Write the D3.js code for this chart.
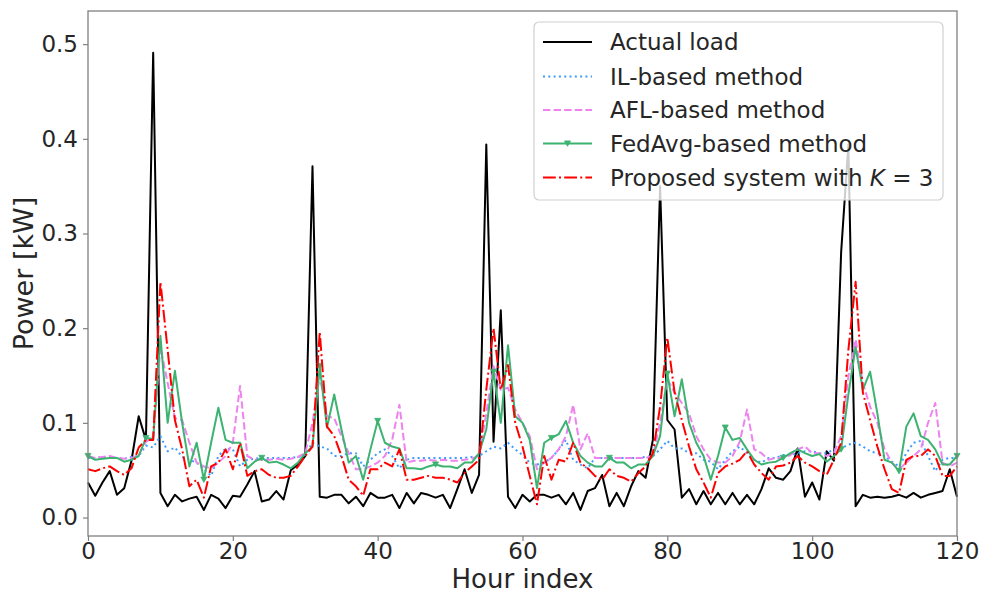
<!DOCTYPE html>
<html><head><meta charset="utf-8">
<script src="https://cdn.jsdelivr.net/npm/d3@7/dist/d3.min.js"></script>
<style>
body{margin:0;background:#fff}
svg{display:block}
text{font-family:"DejaVu Sans",sans-serif;fill:#262626}
</style>
</head><body>
<svg id="chart" width="982" height="594"></svg>
<script>
// ---------------- data ----------------
const actualLoad = [0.037,0.023,0.037,0.049,0.024,0.031,0.06,0.107,0.082,0.491,
0.026,0.012,0.024,0.017,0.02,0.022,0.008,0.024,0.02,0.01,
0.023,0.022,0.035,0.049,0.017,0.019,0.028,0.019,0.05,0.056,
0.065,0.371,0.022,0.021,0.024,0.024,0.015,0.022,0.012,0.026,
0.021,0.021,0.024,0.01,0.026,0.015,0.026,0.024,0.021,0.024,
0.01,0.03,0.051,0.026,0.045,0.394,0.08,0.219,0.022,0.01,
0.024,0.017,0.024,0.024,0.021,0.024,0.014,0.026,0.008,0.028,
0.031,0.045,0.012,0.026,0.012,0.033,0.049,0.042,0.082,0.35,
0.103,0.093,0.021,0.03,0.014,0.028,0.014,0.026,0.014,0.026,
0.014,0.024,0.014,0.03,0.052,0.042,0.04,0.049,0.073,0.022,
0.037,0.019,0.07,0.06,0.28,0.394,0.012,0.024,0.021,0.022,
0.021,0.022,0.024,0.021,0.026,0.021,0.024,0.026,0.028,0.051,
0.022];

const ilMethod = [0.063,0.063,0.064,0.063,0.063,0.062,0.064,0.065,0.076,0.074,
0.086,0.07,0.074,0.064,0.061,0.058,0.051,0.044,0.065,0.073,
0.072,0.054,0.061,0.062,0.063,0.063,0.063,0.063,0.063,0.064,
0.066,0.079,0.075,0.073,0.065,0.065,0.068,0.068,0.054,0.061,
0.068,0.072,0.065,0.052,0.061,0.063,0.063,0.063,0.063,0.063,
0.063,0.063,0.063,0.064,0.065,0.07,0.075,0.073,0.079,0.072,
0.066,0.058,0.056,0.058,0.063,0.072,0.082,0.061,0.056,0.052,
0.063,0.063,0.063,0.063,0.063,0.063,0.063,0.064,0.065,0.072,
0.081,0.073,0.073,0.068,0.068,0.061,0.059,0.051,0.061,0.07,
0.075,0.068,0.061,0.058,0.063,0.063,0.066,0.066,0.068,0.07,
0.07,0.068,0.068,0.072,0.073,0.077,0.079,0.075,0.07,0.068,
0.065,0.059,0.054,0.068,0.079,0.081,0.065,0.049,0.061,0.063,
0.063];

const aflMethod = [0.065,0.063,0.064,0.065,0.063,0.062,0.063,0.066,0.08,0.085,
0.18,0.142,0.105,0.103,0.079,0.058,0.054,0.052,0.058,0.065,
0.079,0.139,0.065,0.061,0.061,0.061,0.062,0.061,0.062,0.064,
0.068,0.1,0.15,0.107,0.105,0.086,0.068,0.051,0.051,0.054,
0.058,0.065,0.082,0.119,0.058,0.06,0.06,0.061,0.06,0.061,
0.06,0.06,0.061,0.062,0.066,0.11,0.16,0.135,0.137,0.114,
0.1,0.086,0.051,0.058,0.063,0.072,0.086,0.119,0.072,0.089,
0.063,0.063,0.063,0.063,0.063,0.063,0.063,0.063,0.065,0.1,
0.146,0.132,0.121,0.11,0.086,0.072,0.061,0.058,0.058,0.065,
0.08,0.114,0.072,0.068,0.061,0.063,0.063,0.066,0.072,0.075,
0.068,0.068,0.065,0.068,0.086,0.149,0.188,0.142,0.117,0.1,
0.072,0.058,0.051,0.058,0.065,0.072,0.1,0.121,0.058,0.054,
0.058];

const fedAvgMethod = [0.065,0.061,0.062,0.063,0.063,0.059,0.061,0.065,0.084,0.083,
0.192,0.1,0.155,0.1,0.054,0.079,0.04,0.079,0.116,0.082,
0.079,0.079,0.052,0.059,0.063,0.058,0.059,0.056,0.052,0.058,
0.068,0.075,0.16,0.095,0.13,0.093,0.058,0.065,0.04,0.072,
0.102,0.079,0.075,0.073,0.052,0.052,0.051,0.054,0.056,0.054,
0.054,0.052,0.058,0.058,0.068,0.093,0.154,0.1,0.182,0.107,
0.1,0.082,0.031,0.079,0.084,0.088,0.102,0.079,0.065,0.058,
0.054,0.054,0.063,0.058,0.058,0.052,0.056,0.056,0.065,0.086,
0.152,0.107,0.146,0.1,0.079,0.065,0.04,0.065,0.095,0.082,
0.084,0.072,0.061,0.056,0.058,0.059,0.063,0.068,0.072,0.068,
0.065,0.067,0.059,0.065,0.072,0.13,0.18,0.135,0.154,0.11,
0.061,0.058,0.049,0.096,0.11,0.086,0.082,0.072,0.056,0.056,
0.065];

const proposedK3 = [0.051,0.049,0.052,0.054,0.049,0.045,0.052,0.074,0.082,0.082,
0.249,0.177,0.103,0.072,0.033,0.04,0.021,0.054,0.058,0.072,
0.051,0.079,0.044,0.049,0.051,0.045,0.042,0.042,0.044,0.054,
0.065,0.075,0.196,0.096,0.086,0.065,0.04,0.033,0.023,0.051,
0.051,0.058,0.054,0.072,0.04,0.04,0.042,0.044,0.042,0.042,
0.04,0.037,0.047,0.054,0.061,0.135,0.2,0.135,0.161,0.1,
0.075,0.044,0.014,0.065,0.04,0.061,0.059,0.079,0.058,0.052,
0.044,0.04,0.051,0.044,0.042,0.038,0.047,0.054,0.068,0.117,
0.19,0.132,0.103,0.075,0.051,0.037,0.021,0.047,0.054,0.057,
0.061,0.07,0.056,0.047,0.04,0.054,0.055,0.058,0.065,0.058,
0.054,0.049,0.045,0.061,0.079,0.177,0.249,0.132,0.103,0.075,
0.051,0.03,0.026,0.061,0.065,0.065,0.072,0.065,0.044,0.044,
0.054];

const seriesNames = ["Actual load","IL-based method","AFL-based method","FedAvg-based method","Proposed system with K = 3"];
const xTickValues = [0,20,40,60,80,100,120];
const yTickValues = [0.0,0.1,0.2,0.3,0.4,0.5];
const xLabel = "Hour index";
const yLabel = "Power [kW]";

// ---------------- drawing ----------------
const svg = d3.select("#chart");
const L = 88, R = 957, T = 11, B = 536;
const x = d3.scaleLinear().domain([0,120]).range([L,R]);
const y = d3.scaleLinear().domain([-0.0195,0.535]).range([B,T]);

const series = [
  {name:seriesNames[0], values:actualLoad, color:"#000000", dash:null, width:2},
  {name:seriesNames[1], values:ilMethod, color:"#3d9bff", dash:"2,3.3", width:2},
  {name:seriesNames[2], values:aflMethod, color:"#ee82ee", dash:"7.4,3.2", width:2},
  {name:seriesNames[3], values:fedAvgMethod, color:"#3cb371", dash:null, width:2, marker:true},
  {name:seriesNames[4], values:proposedK3, color:"#ff0000", dash:"12.8,3.2,2,3.2", width:2}
];

const line = d3.line().x((d,i)=>x(i)).y(d=>y(d));
const tri = "M-3,-2.6L3,-2.6L0,2.8Z";

const plot = svg.append("g");
series.forEach(s=>{
  plot.append("path").datum(s.values).attr("d",line)
    .attr("fill","none").attr("stroke",s.color).attr("stroke-width",s.width)
    .attr("stroke-linejoin","round")
    .attr("stroke-dasharray",s.dash);
  if(s.marker){
    plot.selectAll(null).data(s.values.map((v,i)=>[i,v]).filter(d=>d[0]%8===0))
      .enter().append("path").attr("d",tri)
      .attr("transform",d=>`translate(${x(d[0])},${y(d[1])})`)
      .attr("fill",s.color).attr("stroke",s.color).attr("stroke-width",0.8);
  }
});

// axes
const axisColor = "#808080";
const xAxis = svg.append("g").attr("transform",`translate(0,${B})`)
  .call(d3.axisBottom(x).tickValues(xTickValues).tickFormat(d3.format("d")).tickSize(5).tickSizeOuter(0).tickPadding(2));
const yAxis = svg.append("g").attr("transform",`translate(${L},0)`)
  .call(d3.axisLeft(y).tickValues(yTickValues).tickFormat(d3.format(".1f")).tickSize(5).tickSizeOuter(0).tickPadding(5));
[xAxis,yAxis].forEach(g=>{
  g.select(".domain").remove();
  g.selectAll(".tick line").attr("stroke",axisColor).attr("stroke-width",1.2);
  g.selectAll(".tick text").style("font-family","DejaVu Sans").style("font-size","23px").attr("fill","#262626");
});

svg.append("rect").attr("x",L).attr("y",T).attr("width",R-L).attr("height",B-T)
  .attr("fill","none").attr("stroke",axisColor).attr("stroke-width",1.3);

svg.append("text").attr("x",(L+R)/2).attr("y",588).attr("text-anchor","middle")
  .style("font-size","26px").text(xLabel);
svg.append("text").attr("transform",`translate(33,${(T+B)/2}) rotate(-90)`).attr("text-anchor","middle")
  .style("font-size","27px").text(yLabel);

// legend
const lg = svg.append("g");
lg.append("rect").attr("x",534).attr("y",22).attr("width",409).attr("height",178)
  .attr("rx",5).attr("fill","#fff").attr("fill-opacity",0.8).attr("stroke","#d0d0d0").attr("stroke-width",1.2);
const rowY = [42,76.5,110,143.5,177.5];
series.forEach((s,i)=>{
  const yy = rowY[i];
  lg.append("line").attr("x1",543).attr("x2",592).attr("y1",yy).attr("y2",yy)
    .attr("stroke",s.color).attr("stroke-width",s.width).attr("stroke-dasharray",s.dash);
  if(s.marker){
    lg.append("path").attr("d",tri).attr("transform",`translate(567.5,${yy})`).attr("fill",s.color).attr("stroke",s.color).attr("stroke-width",0.8);
  }
  const t = lg.append("text").attr("x",610).attr("y",yy+8).style("font-size","23px");
  if(i===4){
    t.append("tspan").text("Proposed system with ");
    t.append("tspan").style("font-style","italic").text("K");
    t.append("tspan").text(" = 3");
  } else t.text(s.name);
});
</script>
</body></html>
